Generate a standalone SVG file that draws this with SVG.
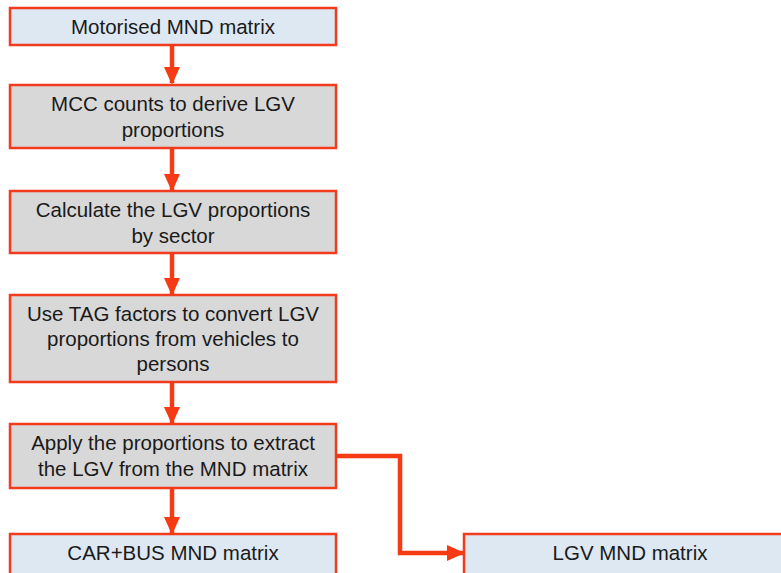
<svg xmlns="http://www.w3.org/2000/svg" width="781" height="573" viewBox="0 0 781 573">
<defs>
<style>
.blue{fill:#dde8f3;stroke:#f23a1c;stroke-width:2.5}
.grey{fill:#d8d8d8;stroke:#f23a1c;stroke-width:2.5}
text{font-family:"Liberation Sans",Arial,sans-serif;font-size:20.5px;fill:#1a1a1a;text-anchor:middle}
.conn{stroke:#f53a14;stroke-width:4.5;fill:none}
</style>
<marker id="ah" markerWidth="4" markerHeight="4" refX="3.6" refY="2" orient="auto" markerUnits="strokeWidth">
<path d="M0,0.2 L4,2 L0,3.8 Z" fill="#f53a14"/>
</marker>
</defs>
<rect width="781" height="573" fill="#ffffff"/>
<g id="n1"><rect class="blue" x="10" y="8" width="326" height="37"/><text x="173" y="34">Motorised MND matrix</text></g>
<g id="n2"><rect class="grey" x="10" y="85" width="326" height="63"/><text x="173" y="111">MCC counts to derive LGV</text><text x="173" y="137">proportions</text></g>
<g id="n3"><rect class="grey" x="10" y="191" width="326" height="62"/><text x="173" y="217">Calculate the LGV proportions</text><text x="173" y="243">by sector</text></g>
<g id="n4"><rect class="grey" x="10" y="295" width="326" height="87"/><text x="173" y="321">Use TAG factors to convert LGV</text><text x="173" y="346">proportions from vehicles to</text><text x="173" y="371">persons</text></g>
<g id="n5"><rect class="grey" x="10" y="424" width="326" height="64"/><text x="173" y="450">Apply the proportions to extract</text><text x="173" y="476">the LGV from the MND matrix</text></g>
<g id="n6"><rect class="blue" x="10" y="534" width="326" height="45"/><text x="173" y="560">CAR+BUS MND matrix</text></g>
<g id="n7"><rect class="blue" x="464" y="534" width="320" height="45"/><text x="630" y="560">LGV MND matrix</text></g>
<g id="connectors">
<path class="conn" d="M172,46 V83" marker-end="url(#ah)"/>
<path class="conn" d="M172,149 V190" marker-end="url(#ah)"/>
<path class="conn" d="M172,254 V294" marker-end="url(#ah)"/>
<path class="conn" d="M172,383 V423" marker-end="url(#ah)"/>
<path class="conn" d="M172,489 V533" marker-end="url(#ah)"/>
<path class="conn" d="M337,456 H400 V553 H463" marker-end="url(#ah)"/>
</g>
</svg>
